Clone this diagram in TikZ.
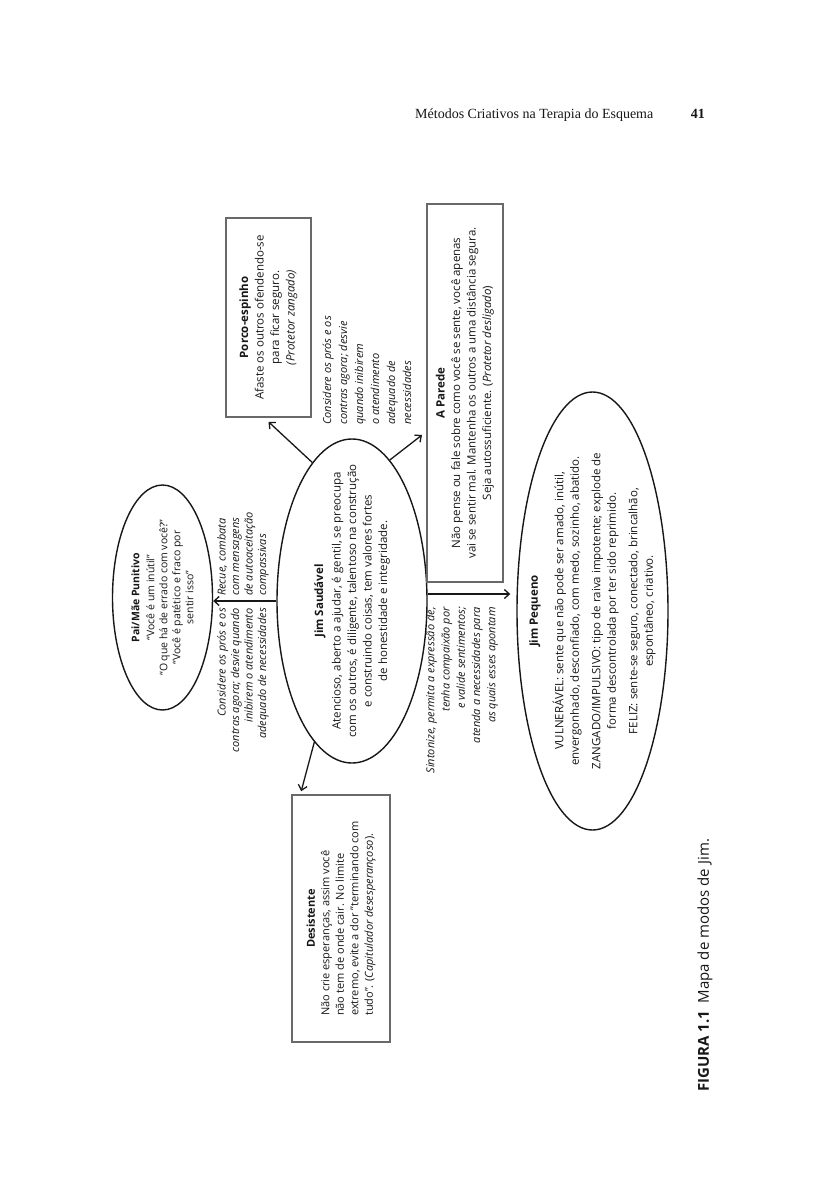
\documentclass[tikz,border=0pt]{standalone}
\usepackage{fontspec}
\setmainfont{Open Sans}
\newfontfamily\headfont{Liberation Serif}
\usetikzlibrary{positioning,shapes,arrows.meta}
\definecolor{ink}{RGB}{25,22,23}
\definecolor{boxgray}{RGB}{105,105,105}

\begin{document}
\begin{tikzpicture}[x=1pt,y=-1pt]
\tikzstyle{every node}+=[inner sep=0pt, text=ink]
\tikzstyle{modebox}=[draw=boxgray, line width=1.6pt, rotate=90, align=center, font=\fontsize{11.5}{15.5}\selectfont]
\tikzstyle{modeell}=[draw=ink, line width=1.4pt, ellipse, rotate=90]
\tikzstyle{txt}=[rotate=90, align=center, font=\fontsize{11.5}{15.5}\selectfont]
\tikzstyle{lbl}=[rotate=90, font=\fontsize{11}{13.5}\selectfont\itshape]
\tikzstyle{link}=[draw=ink, line width=1.3pt, -{Straight Barb[length=5pt,width=9pt]}]
\useasboundingbox[fill=white] (0,0) rectangle (814,1200);
% running head
\node[anchor=base west, font=\headfont\fontsize{14}{16}\selectfont] (head) at (415,118) {Métodos Criativos na Terapia do Esquema};
\node[anchor=base east, font=\headfont\bfseries\fontsize{14}{16}\selectfont] (folio) at (705,118) {41};
% modes
\node[modeell, minimum width=324pt, minimum height=150pt] (saud) at (352,601) {};
\node[txt] (saudtxt) at (saud.center) {{\bfseries Jim Saudável}\\[2pt] Atencioso, aberto a ajudar, é gentil, se preocupa\\ com os outros, é diligente, talentoso na construção\\ e construindo coisas, tem valores fortes\\ de honestidade e integridade.};
\node[modeell, minimum width=225pt, minimum height=100pt] (pai) at (162.5,597.5) {};
\node[txt, font=\fontsize{10.5}{13}\selectfont] (paitxt) at (pai.center) {{\bfseries Pai/Mãe Punitivo}\\[2pt] “Você é um inútil”\\ “O que há de errado com você?”\\ “Você é patético e fraco por\\ sentir isso”};
\node[modeell, minimum width=438pt, minimum height=151pt] (peq) at (592.5,611) {};
\node[txt] (peqtxt) at (peq.center) {{\bfseries Jim Pequeno}\\[10pt] VULNERÁVEL: sente que não pode ser amado, inútil,\\ envergonhado, desconfiado, com medo, sozinho, abatido.\\[6pt] ZANGADO/IMPULSIVO: tipo de raiva impotente; explode de\\ forma descontrolada por ter sido reprimido.\\[6pt] FELIZ: sente-se seguro, conectado, brincalhão,\\ espontâneo, criativo.};
\node[modebox, minimum width=199pt, minimum height=85pt] (porco) at (268.5,317.5) {{\bfseries Porco-espinho}\\ Afaste os outros ofendendo-se\\ para ficar seguro.\\ \textit{(Protetor zangado)}};
\node[modebox, minimum width=378pt, minimum height=76pt] (wall) at (465,393) {{\bfseries A Parede}\\ Não pense ou fale sobre como você se sente, você apenas\\ vai se sentir mal. Mantenha os outros a uma distância segura.\\ Seja autossuficiente. (\textit{Protetor desligado})};
\node[modebox, minimum width=247pt, minimum height=98pt, font=\fontsize{11}{14.5}\selectfont] (desist) at (341,918.5) {\begin{tabular}{@{}l@{}}\multicolumn{1}{@{}c@{}}{\bfseries Desistente}\\ Não crie esperanças, assim você\\ não tem de onde cair. No limite\\ extremo, evite a dor "terminando com\\ tudo". (\textit{Capitulador desesperançoso}).\end{tabular}};
% labels
\node[lbl, anchor=west, align=left] (backoff) at (243,596) {Recue, combata\\ com mensagens\\ de autoaceitação\\ compassivas};
\node[lbl, anchor=east, align=right] (weighpai) at (243,608) {Considere os prós e os\\ contras agora; desvie quando\\ inibirem o atendimento\\ adequado de necessidades};
\node[lbl, anchor=west, align=left, font=\fontsize{11}{16}\selectfont\itshape] (weighwall) at (367,425) {Considere os prós e os\\ contras agora; desvie\\ quando inibirem\\ o atendimento\\ adequado de\\ necessidades};
\node[lbl, anchor=east, align=right, font=\fontsize{11}{15.3}\selectfont\itshape] (attune) at (462,607) {Sintonize, permita a expressão de,\\ tenha compaixão por\\ e valide sentimentos;\\ atenda a necessidades para\\ as quais esses apontam};
% caption
\node[rotate=90, anchor=west, font=\fontsize{15}{18}\selectfont] (caption) at (705,1092) {\textbf{FIGURA 1.1}\enspace Mapa de modos de Jim.};
% arrows
\coordinate (walltip) at (422,435);
\draw[link] (saud.16) -- ([yshift=-4pt]porco.west);
\draw[link] (saud.345) -- (walltip);
\draw[link] (saud.north) -- (saud.north -| pai.south);
\draw[link, shorten >=6pt] ([yshift=7pt]saud.south) -- ([yshift=7pt]saud.south -| peq.north);
\draw[link] (saud) -- ([xshift=10pt,yshift=3pt]desist.north east);
\end{tikzpicture}
\end{document}
